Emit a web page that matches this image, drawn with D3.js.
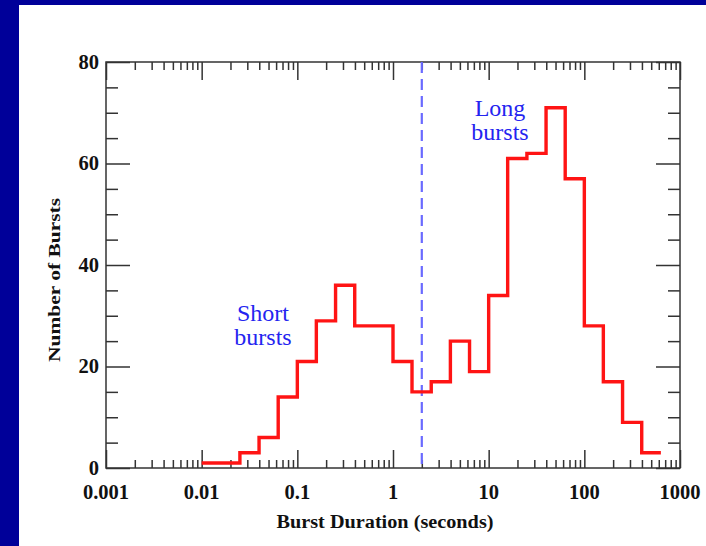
<!DOCTYPE html>
<html>
<head>
<meta charset="utf-8">
<script src="https://cdn.jsdelivr.net/npm/d3@7"></script>
<style>
  html, body { margin: 0; padding: 0; background: #ffffff; }
  svg { display: block; }
  text { font-family: "Liberation Serif", "Times New Roman", serif; }
</style>
</head>
<body>
<svg id="chart" width="706" height="546"></svg>
<script>
// ---- data ----
const binEdges = [0.01, 0.0158, 0.0251, 0.0398, 0.0631, 0.1, 0.158, 0.251, 0.398, 0.631,
                  1, 1.58, 2.51, 3.98, 6.31, 10, 15.8, 25.1, 39.8, 63.1,
                  100, 158, 251, 398, 631];
const counts = [1, 1, 3, 6, 14, 21, 29, 36, 28, 28,
                21, 15, 17, 25, 19, 34, 61, 62, 71, 57,
                28, 17, 9, 3];
const xTickValues = [0.001, 0.01, 0.1, 1, 10, 100, 1000];
const xTickLabels = ["0.001", "0.01", "0.1", "1", "10", "100", "1000"];
const yTickValues = [0, 20, 40, 60, 80];
const dividerValue = 2;
const xTitle = "Burst Duration (seconds)";
const yTitle = "Number of Bursts";
const shortLabel = ["Short", "bursts"];
const longLabel = ["Long", "bursts"];

// ---- layout ----
const svg = d3.select("#chart");
const L = 106, R = 680, T = 62, B = 468;

// navy frame (top and left)
svg.append("rect").attr("x", 0).attr("y", 0).attr("width", 706).attr("height", 5).attr("fill", "#000099");
svg.append("rect").attr("x", 0).attr("y", 0).attr("width", 19).attr("height", 546).attr("fill", "#000099");

const x = d3.scaleLog().domain([0.001, 1000]).range([L, R]);
const y = d3.scaleLinear().domain([0, 80]).range([B, T]);

const axisColor = "#333333";

// minor x ticks
const minorX = [];
for (let dec = -3; dec < 3; dec++) {
  for (let m = 2; m <= 9; m++) minorX.push(m * Math.pow(10, dec));
}
const minorY = d3.range(0, 81, 5).filter(v => v % 20 !== 0);

function styleAxis(g) {
  g.selectAll(".domain").remove();
  g.selectAll(".tick line").attr("stroke", axisColor).attr("stroke-width", 1.5);
}

// bottom axis
svg.append("g").attr("transform", `translate(0,${B})`)
  .call(d3.axisTop(x).tickValues(xTickValues).tickSize(18).tickFormat(""))
  .call(styleAxis);
svg.append("g").attr("transform", `translate(0,${B})`)
  .call(d3.axisTop(x).tickValues(minorX).tickSize(8).tickFormat(""))
  .call(styleAxis);
// top axis
svg.append("g").attr("transform", `translate(0,${T})`)
  .call(d3.axisBottom(x).tickValues(xTickValues).tickSize(18).tickFormat(""))
  .call(styleAxis);
svg.append("g").attr("transform", `translate(0,${T})`)
  .call(d3.axisBottom(x).tickValues(minorX).tickSize(8).tickFormat(""))
  .call(styleAxis);
// left axis
svg.append("g").attr("transform", `translate(${L},0)`)
  .call(d3.axisRight(y).tickValues(yTickValues).tickSize(24).tickFormat(""))
  .call(styleAxis);
svg.append("g").attr("transform", `translate(${L},0)`)
  .call(d3.axisRight(y).tickValues(minorY).tickSize(12).tickFormat(""))
  .call(styleAxis);
// right axis
svg.append("g").attr("transform", `translate(${R},0)`)
  .call(d3.axisLeft(y).tickValues(yTickValues).tickSize(24).tickFormat(""))
  .call(styleAxis);
svg.append("g").attr("transform", `translate(${R},0)`)
  .call(d3.axisLeft(y).tickValues(minorY).tickSize(12).tickFormat(""))
  .call(styleAxis);

// frame box
svg.append("rect").attr("x", L).attr("y", T).attr("width", R - L).attr("height", B - T)
  .attr("fill", "none").attr("stroke", axisColor).attr("stroke-width", 1.5);

// tick labels
svg.append("g").selectAll("text").data(xTickValues).join("text")
  .attr("x", d => x(d)).attr("y", 499)
  .attr("text-anchor", "middle")
  .attr("font-size", 20.5).attr("font-weight", "bold").attr("fill", "#111")
  .text((d, i) => xTickLabels[i]);
svg.append("g").selectAll("text").data(yTickValues).join("text")
  .attr("x", 99).attr("y", d => y(d)).attr("dy", "0.34em")
  .attr("text-anchor", "end")
  .attr("font-size", 20.5).attr("font-weight", "bold").attr("fill", "#111")
  .text(d => d);

// axis titles
svg.append("text").attr("x", 385).attr("y", 528).attr("text-anchor", "middle")
  .attr("font-size", 18).attr("font-weight", "bold").attr("fill", "#111")
  .attr("textLength", 217).attr("lengthAdjust", "spacingAndGlyphs")
  .text(xTitle);
svg.append("text").attr("transform", "translate(60,280) rotate(-90)")
  .attr("text-anchor", "middle")
  .attr("font-size", 17).attr("font-weight", "bold").attr("fill", "#111")
  .attr("textLength", 164).attr("lengthAdjust", "spacingAndGlyphs")
  .text(yTitle);

// divider
svg.append("line")
  .attr("x1", x(dividerValue)).attr("x2", x(dividerValue))
  .attr("y1", T).attr("y2", B)
  .attr("stroke", "#6a6aff").attr("stroke-width", 2.2)
  .attr("stroke-dasharray", "11,6");

// histogram
const pts = counts.map((c, i) => [binEdges[i], c]);
pts.push([binEdges[binEdges.length - 1], counts[counts.length - 1]]);
const line = d3.line().x(d => x(d[0])).y(d => y(d[1])).curve(d3.curveStepAfter);
svg.append("path").attr("d", line(pts))
  .attr("fill", "none").attr("stroke", "#ff1414").attr("stroke-width", 3.4)
  .attr("stroke-linejoin", "miter");

// annotations
function label(lines, cx, y0) {
  svg.append("g").selectAll("text").data(lines).join("text")
    .attr("x", cx).attr("y", (d, i) => y0 + i * 24)
    .attr("text-anchor", "middle")
    .attr("font-size", 24).attr("fill", "#2424f0")
    .text(d => d);
}
label(shortLabel, 263, 321);
label(longLabel, 500, 116);
</script>
</body>
</html>
